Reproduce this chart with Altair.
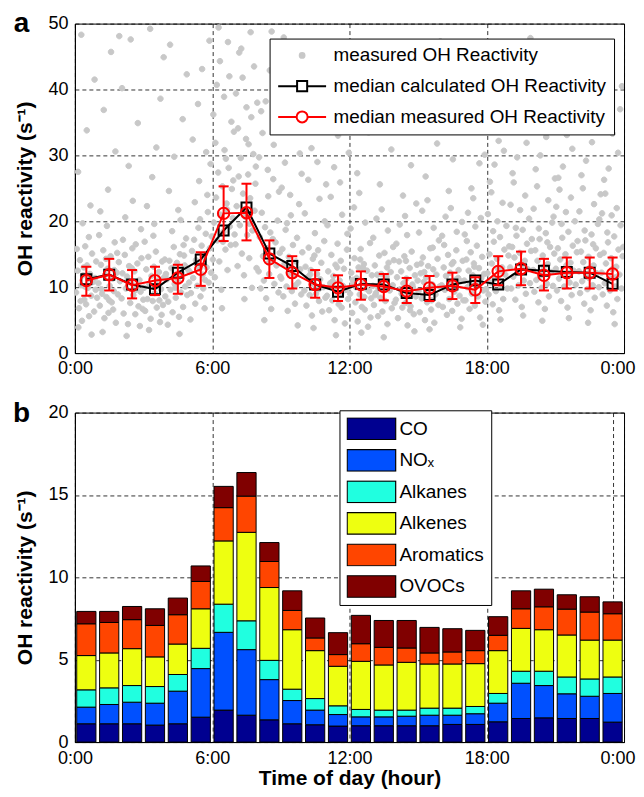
import altair as alt
import pandas as pd

FONT = "Liberation Sans"

# ---------------- Panel a data ----------------
HOUR_MID = [0.5, 1.5, 2.5, 3.5, 4.5, 5.5, 6.5, 7.5, 8.5, 9.5, 10.5, 11.5,
            12.5, 13.5, 14.5, 15.5, 16.5, 17.5, 18.5, 19.5, 20.5, 21.5, 22.5, 23.5]
MEAS_MED = [11.0, 11.9, 10.3, 11.0, 11.4, 12.7, 21.2, 21.3, 14.3, 12.2, 10.4, 9.9,
            10.4, 10.1, 9.4, 9.9, 10.2, 9.6, 12.4, 12.8, 11.8, 12.2, 12.2, 12.0]
MEAS_LO = [8.7, 9.5, 8.3, 8.8, 9.0, 10.2, 17.0, 17.1, 11.4, 9.8, 8.4, 7.9,
           8.1, 8.0, 7.6, 7.9, 8.2, 7.6, 10.3, 10.3, 9.5, 9.8, 9.8, 9.5]
MEAS_HI = [13.1, 14.3, 12.6, 13.1, 13.4, 15.3, 25.3, 25.7, 17.1, 14.7, 12.6, 11.8,
           12.4, 12.0, 11.4, 11.7, 12.2, 11.5, 14.7, 15.4, 14.3, 14.5, 14.5, 14.5]
CALC_MED = [11.2, 11.9, 10.4, 9.7, 12.2, 14.2, 18.6, 22.1, 15.1, 13.2, 10.4, 9.3,
            10.5, 10.4, 9.1, 8.8, 10.4, 11.0, 10.4, 12.7, 12.5, 12.3, 12.2, 10.5]

# measured OH reactivity points: hour -> list of (fraction of hour, value)
SCATTER = {
    0: [(.05,9.2),(.12,12.5),(.18,6.8),(.22,14.1),(.27,10.3),(.31,4.9),(.36,11.8),(.41,8.1),(.45,16.2),(.49,7.4),(.53,13.3),(.57,9.9),(.62,5.6),(.66,12.0),(.71,8.7),(.75,15.1),(.79,10.8),(.84,6.3),(.88,11.4),(.93,13.9),(.97,8.4),(.08,15.8),(.15,3.9),(.25,7.9),(.39,13.0),(.59,11.2),(.73,2.8),(.91,9.6),(.34,19.7),(.68,22.4),(.14,27.5),(.52,33.8),(.86,41.5),(.28,48.3),(.61,17.6),(.44,10.1)],
    1: [(.03,10.6),(.09,7.2),(.14,13.4),(.19,9.0),(.24,15.6),(.29,5.3),(.33,11.9),(.38,8.5),(.43,12.8),(.47,6.1),(.52,10.2),(.56,14.7),(.61,7.7),(.65,11.3),(.7,9.4),(.74,16.8),(.79,4.6),(.83,12.2),(.88,8.9),(.92,13.8),(.97,10.9),(.06,17.9),(.21,3.2),(.36,14.3),(.5,8.0),(.67,6.6),(.85,15.2),(.11,21.5),(.45,24.8),(.77,30.6),(.26,36.9),(.58,45.7),(.94,48.1),(.4,19.3),(.72,12.6),(.16,9.7)],
    2: [(.04,8.3),(.08,12.1),(.13,6.0),(.18,14.9),(.23,9.8),(.28,11.6),(.32,4.4),(.37,13.2),(.42,7.6),(.46,10.7),(.51,15.9),(.55,8.8),(.6,12.4),(.64,5.9),(.69,10.0),(.73,13.6),(.78,7.1),(.82,11.1),(.87,9.3),(.91,14.4),(.96,6.7),(.1,17.2),(.26,2.6),(.48,12.9),(.66,16.5),(.84,4.1),(.2,20.6),(.53,23.1),(.35,28.4),(.75,34.9),(.06,40.2),(.44,47.6),(.89,18.8),(.62,9.5),(.3,11.0),(.99,8.1)],
    3: [(.02,9.9),(.07,6.4),(.12,12.7),(.17,8.2),(.21,14.6),(.26,10.4),(.31,5.2),(.35,11.7),(.4,7.9),(.45,13.1),(.49,9.1),(.54,15.4),(.58,6.9),(.63,10.6),(.67,12.3),(.72,4.7),(.76,9.7),(.81,13.9),(.85,7.3),(.9,11.5),(.95,8.6),(.05,16.9),(.24,3.5),(.43,17.8),(.61,11.0),(.79,5.8),(.93,14.2),(.15,22.3),(.38,26.7),(.56,31.2),(.74,38.6),(.88,44.9),(.29,49.2),(.47,19.6),(.69,8.0),(.98,12.0)],
    4: [(.03,11.2),(.08,7.8),(.13,14.0),(.18,9.6),(.22,12.9),(.27,6.2),(.32,16.1),(.36,10.5),(.41,8.4),(.46,13.7),(.5,11.0),(.55,5.5),(.59,15.0),(.64,9.2),(.68,12.1),(.73,7.0),(.77,14.8),(.82,10.1),(.86,17.4),(.91,8.8),(.96,12.6),(.06,4.3),(.25,18.5),(.44,11.6),(.62,20.2),(.8,13.3),(.11,24.6),(.34,29.8),(.52,21.7),(.71,35.5),(.89,42.3),(.16,46.8),(.57,2.9),(.39,9.9),(.75,16.4),(.99,10.7)],
    5: [(.02,12.3),(.07,9.1),(.12,15.5),(.17,11.4),(.21,17.2),(.26,7.5),(.31,13.6),(.35,10.2),(.4,19.0),(.45,12.8),(.49,8.6),(.54,16.3),(.58,11.9),(.63,14.5),(.67,6.8),(.72,18.1),(.76,13.0),(.81,21.4),(.85,10.7),(.9,15.9),(.95,12.2),(.05,5.1),(.24,22.9),(.43,26.1),(.61,9.8),(.79,24.0),(.93,28.7),(.15,32.4),(.38,37.8),(.56,43.1),(.74,30.5),(.88,47.4),(.29,14.1),(.47,20.3),(.69,11.1),(.98,17.7)],
    6: [(.03,14.2),(.08,19.8),(.12,11.5),(.17,23.6),(.22,17.1),(.26,27.4),(.31,13.9),(.36,21.0),(.4,9.6),(.45,25.3),(.49,18.4),(.54,30.8),(.58,15.7),(.63,22.7),(.67,12.6),(.72,28.1),(.77,19.2),(.81,16.4),(.86,24.9),(.9,20.5),(.95,33.6),(.05,36.2),(.2,40.7),(.34,44.3),(.52,38.9),(.69,47.2),(.84,35.1),(.14,31.9),(.43,6.8),(.6,29.5),(.75,42.0),(.92,26.2),(.28,49.4),(.47,16.9),(.65,21.8),(.98,18.0)],
    7: [(.02,16.5),(.07,22.3),(.11,13.2),(.16,26.8),(.21,19.4),(.25,29.6),(.3,15.1),(.35,24.2),(.39,11.8),(.44,20.7),(.48,32.5),(.53,17.9),(.57,27.1),(.62,14.4),(.66,23.5),(.71,35.8),(.76,18.6),(.8,30.2),(.85,21.6),(.89,25.7),(.94,12.9),(.04,39.4),(.18,45.6),(.33,41.8),(.5,37.3),(.68,48.7),(.83,43.5),(.13,34.1),(.41,8.2),(.59,31.7),(.74,9.9),(.91,28.3),(.27,46.2),(.46,21.1),(.64,19.6),(.97,38.0)],
    8: [(.03,12.4),(.08,17.6),(.12,9.8),(.17,21.3),(.22,14.7),(.26,11.0),(.31,19.1),(.36,8.3),(.4,15.9),(.45,23.8),(.49,12.0),(.54,18.3),(.58,6.7),(.63,14.1),(.67,26.4),(.72,10.5),(.77,16.8),(.81,13.3),(.86,20.1),(.9,9.2),(.95,15.2),(.05,29.7),(.2,33.4),(.34,38.2),(.52,42.9),(.69,31.6),(.84,46.5),(.14,36.7),(.43,27.8),(.6,48.8),(.75,40.4),(.92,24.5),(.28,5.0),(.47,13.7),(.65,17.3),(.98,11.6)],
    9: [(.02,11.3),(.07,15.8),(.11,8.6),(.16,13.5),(.21,18.7),(.25,10.1),(.3,6.4),(.35,14.6),(.39,12.2),(.44,20.9),(.48,9.4),(.53,16.4),(.57,11.8),(.62,7.5),(.66,13.9),(.71,17.5),(.76,10.7),(.8,22.6),(.85,12.7),(.89,8.9),(.94,15.3),(.04,25.1),(.18,28.9),(.33,33.7),(.5,39.6),(.68,44.1),(.83,30.3),(.13,47.9),(.41,24.0),(.59,36.4),(.74,4.2),(.91,27.2),(.27,19.7),(.46,12.9),(.64,10.3),(.97,41.3)],
    10: [(.03,9.5),(.08,13.1),(.12,7.2),(.17,11.5),(.22,16.0),(.26,8.8),(.31,12.6),(.36,5.7),(.4,14.3),(.45,10.4),(.49,18.2),(.54,9.0),(.58,12.0),(.63,15.6),(.67,7.9),(.72,11.2),(.77,13.7),(.81,6.3),(.86,10.0),(.9,17.0),(.95,8.4),(.05,21.2),(.2,26.3),(.34,31.1),(.52,35.9),(.69,23.4),(.84,42.6),(.14,38.5),(.43,3.8),(.6,29.0),(.75,46.4),(.92,20.0),(.28,11.9),(.47,14.8),(.65,9.7),(.98,25.6)],
    11: [(.02,8.7),(.07,12.4),(.11,6.5),(.16,10.6),(.21,14.9),(.25,8.0),(.3,11.7),(.35,5.0),(.39,13.4),(.44,9.3),(.48,16.6),(.53,7.4),(.57,11.0),(.62,14.0),(.66,6.9),(.71,10.2),(.76,12.8),(.8,4.5),(.85,9.6),(.89,15.7),(.94,8.2),(.04,19.4),(.18,23.7),(.33,28.2),(.5,33.0),(.68,21.0),(.83,39.8),(.13,44.7),(.41,2.7),(.59,25.9),(.74,36.1),(.91,18.1),(.27,10.9),(.46,13.0),(.64,9.1),(.97,30.4)],
    12: [(.03,9.0),(.08,12.2),(.12,6.1),(.17,10.5),(.22,14.4),(.26,7.7),(.31,11.4),(.36,4.8),(.4,13.0),(.45,8.9),(.49,15.8),(.54,7.0),(.58,10.8),(.63,13.5),(.67,6.6),(.72,9.8),(.77,12.5),(.81,4.0),(.86,9.4),(.9,16.7),(.95,8.3),(.05,18.9),(.2,22.1),(.34,27.3),(.52,3.1),(.69,19.8),(.84,33.5),(.14,11.1),(.43,24.3),(.6,12.9),(.75,38.7),(.92,5.4),(.28,10.0),(.47,14.2),(.65,8.5),(.98,11.8)],
    13: [(.02,10.2),(.07,7.3),(.11,13.3),(.16,9.1),(.21,11.9),(.25,5.6),(.3,14.8),(.35,8.4),(.39,12.0),(.44,6.3),(.48,10.9),(.53,15.2),(.57,7.9),(.62,11.6),(.66,4.4),(.71,13.7),(.76,9.5),(.8,12.3),(.85,6.8),(.89,10.3),(.94,14.1),(.04,17.5),(.18,20.4),(.33,25.6),(.5,2.4),(.68,18.6),(.83,30.9),(.13,8.8),(.41,21.8),(.59,11.2),(.74,42.8),(.91,16.1),(.27,9.8),(.46,35.2),(.64,13.0),(.97,7.6)],
    14: [(.03,8.1),(.08,11.5),(.12,5.3),(.17,13.9),(.22,9.7),(.26,12.4),(.31,6.9),(.36,10.6),(.4,14.7),(.45,7.6),(.49,11.3),(.54,4.2),(.58,9.2),(.63,12.9),(.67,7.1),(.72,15.4),(.77,10.0),(.81,5.9),(.86,11.8),(.9,8.6),(.95,13.4),(.05,16.6),(.2,19.5),(.34,23.9),(.52,17.9),(.69,28.5),(.84,3.3),(.14,45.1),(.43,20.8),(.6,33.9),(.75,10.4),(.92,22.7),(.28,9.0),(.47,14.0),(.65,6.5),(.98,11.0)],
    15: [(.02,9.4),(.07,6.2),(.11,12.1),(.16,8.3),(.21,14.5),(.25,10.8),(.3,5.0),(.35,11.5),(.39,7.7),(.44,13.2),(.48,9.9),(.53,15.9),(.57,6.6),(.62,10.4),(.66,12.7),(.71,4.6),(.76,8.9),(.8,11.9),(.85,14.3),(.89,7.3),(.94,10.1),(.04,18.3),(.18,21.6),(.33,26.8),(.5,3.6),(.68,19.0),(.83,31.8),(.13,13.6),(.41,23.2),(.59,8.0),(.74,37.4),(.91,17.1),(.27,12.3),(.46,9.2),(.64,16.0),(.97,47.3)],
    16: [(.03,10.3),(.08,7.0),(.12,13.0),(.17,9.6),(.22,11.7),(.26,5.8),(.31,14.9),(.36,8.2),(.4,12.2),(.45,10.7),(.49,6.4),(.54,13.8),(.58,9.3),(.63,11.1),(.67,15.6),(.72,7.5),(.77,12.6),(.81,8.7),(.86,10.9),(.9,5.2),(.95,14.0),(.05,17.8),(.2,20.7),(.34,24.6),(.52,29.4),(.69,18.4),(.84,3.9),(.14,16.4),(.43,22.0),(.6,34.6),(.75,11.4),(.92,19.9),(.28,9.9),(.47,13.5),(.65,40.9),(.98,8.0)],
    17: [(.02,11.0),(.07,8.0),(.11,14.2),(.16,10.0),(.21,12.5),(.25,6.7),(.3,15.3),(.35,9.0),(.39,11.8),(.44,13.6),(.48,7.2),(.53,10.6),(.57,16.3),(.62,8.6),(.66,12.9),(.71,5.4),(.76,11.4),(.8,14.6),(.85,9.5),(.89,12.0),(.94,7.8),(.04,18.0),(.18,21.3),(.33,25.0),(.5,19.2),(.68,28.8),(.83,4.3),(.13,17.0),(.41,23.5),(.59,36.3),(.74,20.5),(.91,30.1),(.27,10.4),(.46,13.1),(.64,44.2),(.97,9.7)],
    18: [(.03,12.1),(.08,8.9),(.12,15.0),(.17,10.7),(.22,13.6),(.26,7.4),(.31,16.9),(.36,11.3),(.4,9.4),(.45,14.3),(.49,12.8),(.54,6.5),(.58,17.6),(.63,10.1),(.67,13.0),(.72,8.2),(.77,15.7),(.81,11.9),(.86,19.3),(.9,9.8),(.95,14.8),(.05,21.1),(.2,24.4),(.34,28.6),(.52,32.2),(.69,22.8),(.84,36.8),(.14,26.0),(.43,41.6),(.6,5.1),(.75,30.7),(.92,45.5),(.28,18.5),(.47,20.0),(.65,12.4),(.98,16.2)],
    19: [(.02,13.0),(.07,9.8),(.11,16.1),(.16,11.6),(.21,14.5),(.25,8.1),(.3,17.8),(.35,12.2),(.39,10.3),(.44,15.2),(.48,13.5),(.53,7.0),(.57,18.7),(.62,11.0),(.66,14.0),(.71,9.0),(.76,16.6),(.8,12.7),(.85,20.4),(.89,10.6),(.94,15.5),(.04,22.5),(.18,25.9),(.33,29.7),(.5,34.4),(.68,23.9),(.83,38.1),(.13,27.3),(.41,43.0),(.59,5.7),(.74,31.9),(.91,47.8),(.27,19.0),(.46,21.7),(.64,13.3),(.97,17.3)],
    20: [(.03,12.6),(.08,9.3),(.12,15.6),(.17,11.1),(.22,14.0),(.26,7.7),(.31,17.3),(.36,11.8),(.4,9.9),(.45,14.8),(.49,13.1),(.54,6.7),(.58,18.2),(.63,10.5),(.67,13.5),(.72,8.6),(.77,16.1),(.81,12.3),(.86,19.8),(.9,10.2),(.95,15.1),(.05,21.9),(.2,25.3),(.34,30.0),(.52,35.6),(.69,23.2),(.84,39.3),(.14,27.9),(.43,4.9),(.6,32.8),(.75,44.0),(.92,20.7),(.28,18.9),(.47,12.0),(.65,16.8),(.98,26.5)],
    21: [(.02,12.8),(.07,9.5),(.11,15.9),(.16,11.3),(.21,14.2),(.25,7.9),(.3,17.5),(.35,12.0),(.39,10.1),(.44,15.0),(.48,13.3),(.53,6.9),(.57,18.4),(.62,10.7),(.66,13.7),(.71,8.8),(.76,16.3),(.8,12.5),(.85,20.0),(.89,10.4),(.94,15.3),(.04,22.2),(.18,24.8),(.33,28.3),(.5,33.1),(.68,23.6),(.83,37.6),(.13,26.6),(.41,42.4),(.59,5.3),(.74,31.0),(.91,46.9),(.27,19.6),(.46,21.4),(.64,12.2),(.97,17.0)],
    22: [(.03,12.4),(.08,9.1),(.12,15.4),(.17,10.9),(.22,13.8),(.26,7.5),(.31,17.1),(.36,11.6),(.4,9.7),(.45,14.6),(.49,12.9),(.54,6.5),(.58,18.0),(.63,10.3),(.67,13.3),(.72,8.4),(.77,15.9),(.81,12.1),(.86,19.6),(.9,10.0),(.95,14.9),(.05,21.5),(.2,25.0),(.34,29.2),(.52,34.7),(.69,22.6),(.84,38.8),(.14,27.0),(.43,4.6),(.6,32.0),(.75,41.9),(.92,20.3),(.28,18.6),(.47,11.4),(.65,16.5),(.98,24.1)],
    23: [(.02,12.2),(.07,8.9),(.11,15.2),(.16,10.6),(.21,13.6),(.25,7.2),(.3,16.8),(.35,11.4),(.39,9.5),(.44,14.4),(.48,12.7),(.53,6.2),(.57,17.7),(.62,10.1),(.66,13.1),(.71,8.2),(.76,15.7),(.8,11.9),(.85,19.4),(.89,9.8),(.94,14.7),(.04,21.2),(.18,24.2),(.33,28.0),(.5,33.3),(.68,22.0),(.83,37.0),(.13,26.3),(.41,45.8),(.59,4.4),(.74,30.4),(.91,40.5),(.27,18.3),(.46,20.9),(.64,11.5),(.97,16.1)],
}

LEGEND_A = ["measured OH Reactivity", "median calculated OH Reactivity", "median measured OH Reactivity"]

# ---------------- Panel b data ----------------
COMPONENTS = ["CO", "NO\u2093", "Alkanes", "Alkenes", "Aromatics", "OVOCs"]
COMP_COLORS = ["#000090", "#0050ff", "#20ffe0", "#eeff10", "#ff4500", "#800000"]
CO = [1.11, 1.11, 1.11, 1.03, 1.11, 1.51, 1.94, 1.63, 1.35, 1.11, 1.05, 0.97,
      0.99, 0.99, 0.99, 0.99, 1.07, 1.07, 1.23, 1.43, 1.47, 1.43, 1.43, 1.21]
NOX = [1.01, 1.17, 1.31, 1.33, 1.98, 2.95, 4.72, 3.98, 2.44, 1.41, 0.89, 0.70,
       0.54, 0.54, 0.58, 0.64, 0.56, 0.65, 1.13, 2.14, 1.96, 1.50, 1.35, 1.74]
ALKANES = [1.05, 1.01, 1.01, 1.01, 1.01, 1.23, 1.71, 1.75, 1.17, 0.69, 0.70, 0.53,
           0.45, 0.41, 0.37, 0.43, 0.43, 0.44, 0.59, 0.73, 0.87, 1.02, 1.05, 1.00]
ALKENES = [2.08, 2.12, 2.24, 1.80, 1.85, 2.40, 3.84, 5.37, 4.42, 3.61, 2.91, 2.40,
           2.92, 2.74, 2.90, 2.68, 2.68, 2.60, 2.60, 2.60, 2.52, 2.55, 2.36, 2.24]
AROMATICS = [1.93, 1.85, 1.76, 1.91, 1.78, 1.66, 2.02, 2.20, 1.58, 1.17, 0.77, 0.71,
             1.07, 1.07, 0.87, 0.67, 0.73, 0.79, 0.93, 1.19, 1.39, 1.57, 1.70, 1.60]
OVOCS = [0.75, 0.67, 0.80, 1.01, 1.01, 0.94, 1.29, 1.43, 1.15, 1.19, 1.21, 1.33,
         1.72, 1.63, 1.67, 1.55, 1.41, 1.23, 1.13, 1.09, 1.07, 0.87, 0.93, 0.72]
COMP_VALUES = [CO, NOX, ALKANES, ALKENES, AROMATICS, OVOCS]

# ---------------- data frames ----------------
sc_rows = []
for h, pts in SCATTER.items():
    for f, v in pts:
        sc_rows.append({"x": h + f, "y": v, "series": LEGEND_A[0]})
df_sc = pd.DataFrame(sc_rows)

df_med = pd.DataFrame({"x": HOUR_MID, "calc": CALC_MED, "meas": MEAS_MED,
                       "lo": MEAS_LO, "hi": MEAS_HI})

bar_rows = []
for i, h in enumerate(HOUR_MID):
    for j, comp in enumerate(COMPONENTS):
        bar_rows.append({"x": h, "comp": comp, "idx": j, "value": COMP_VALUES[j][i]})
df_bar = pd.DataFrame(bar_rows)

# ---------------- shared scales/axes ----------------
XSCALE = alt.Scale(domain=[0, 24], nice=False, zero=False)
XLABEL = "datum.value == 23.5 ? '' : (datum.value % 24) + ':00'"
LAST_ALIGN = {"condition": {"test": "datum.value >= 24", "value": "right"}, "value": "center"}
LAST_OFFSET = {"condition": {"test": "datum.value >= 24", "value": 11}, "value": 0}
AX_XA = alt.Axis(values=[0, 6, 12, 18, 24], labelExpr=XLABEL, title=None, grid=True,
                 labelFlush=False, labelPadding=6, ticks=False,
                 labelAlign=LAST_ALIGN, labelOffset=LAST_OFFSET)
AX_XB = alt.Axis(values=[0, 6, 12, 18, 23.5, 24], labelExpr=XLABEL, title="Time of day (hour)",
                 grid=True, labelFlush=False, labelPadding=7, ticks=False, titlePadding=1,
                 labelAlign=LAST_ALIGN, labelOffset=LAST_OFFSET)
YTITLE = "OH reactivity (s\u207b\u00b9)"
YSCALE_A = alt.Scale(domain=[0, 50], nice=False)
YSCALE_B = alt.Scale(domain=[0, 20], nice=False)
AX_YA = alt.Axis(values=[0, 10, 20, 30, 40, 50], title=YTITLE, labelPadding=7,
                 titlePadding=12, ticks=False, grid=True)
AX_YB = alt.Axis(values=[0, 5, 10, 15, 20], title=YTITLE, labelPadding=7,
                 titlePadding=12, ticks=False, grid=True)


def xa(field):
    return alt.X(field, type="quantitative", scale=XSCALE, axis=AX_XA)


def ya(field):
    return alt.Y(field, type="quantitative", scale=YSCALE_A, axis=AX_YA)


DOT = "M0.1,0A0.1,0.1,0,1,1,-0.1,0A0.1,0.1,0,1,1,0.1,0Z"
SQ = "M-1,0H-0.21M0.21,0H1M-0.21,-0.21H0.21V0.21H-0.21Z"
CIRC = "M-1,0H-0.23M0.23,0H1M0.23,0A0.23,0.23,0,1,1,-0.23,0A0.23,0.23,0,1,1,0.23,0Z"

LEG_A = alt.Legend(title=None, orient="none", legendX=195, legendY=15, padding=7.6,
                   strokeColor="black", fillColor="white", symbolSize=2304,
                   symbolStrokeWidth=2, clipHeight=18.5, rowPadding=10.8, labelOffset=6.4,
                   labelFontSize=18.9, labelFont=FONT, labelColor="black", labelLimit=400)

scatter = alt.Chart(df_sc).mark_point(filled=True, opacity=1, size=3100, strokeWidth=1, clip=True).encode(
    x=xa("x"), y=ya("y"),
    fill=alt.Fill("series:N", scale=alt.Scale(domain=LEGEND_A, range=["#c8c8c8", "transparent", "transparent"]), legend=LEG_A),
    stroke=alt.Stroke("series:N", scale=alt.Scale(domain=LEGEND_A, range=["#c8c8c8", "black", "red"]), legend=LEG_A),
    shape=alt.Shape("series:N", scale=alt.Scale(domain=LEGEND_A, range=[DOT, SQ, CIRC]), legend=LEG_A),
)

calc_line = alt.Chart(df_med).mark_line(color="black", strokeWidth=2).encode(x=xa("x"), y=ya("calc"))
calc_pts = alt.Chart(df_med).mark_point(shape="square", filled=False, color="black", size=100,
                                        strokeWidth=2, opacity=1).encode(x=xa("x"), y=ya("calc"))
err = alt.Chart(df_med).mark_rule(color="red", strokeWidth=2).encode(x=xa("x"), y=ya("lo"), y2="hi:Q")
caps_base = alt.Chart(df_med).transform_calculate(xl="datum.x - 0.22", xr="datum.x + 0.22")
cap_lo = caps_base.mark_rule(color="red", strokeWidth=2).encode(x=xa("xl"), x2="xr:Q", y=ya("lo"))
cap_hi = caps_base.mark_rule(color="red", strokeWidth=2).encode(x=xa("xl"), x2="xr:Q", y=ya("hi"))
meas_line = alt.Chart(df_med).mark_line(color="red", strokeWidth=2).encode(x=xa("x"), y=ya("meas"))
meas_pts = alt.Chart(df_med).mark_point(shape="circle", filled=False, color="red", size=130,
                                        strokeWidth=2, opacity=1).encode(x=xa("x"), y=ya("meas"))

label_a = alt.Chart(pd.DataFrame({"t": ["a"]})).mark_text(
    fontSize=28, fontWeight="bold", font=FONT, align="center", baseline="alphabetic", color="black"
).encode(text="t:N", x=alt.value(-53.5), y=alt.value(8.3))

panel_a = alt.layer(scatter, calc_line, calc_pts, err, cap_lo, cap_hi, meas_line, meas_pts,
                    label_a).properties(width=550, height=330)

# ---------------- panel b ----------------
RECT = "M-1,-0.444H1V0.444H-1Z"
LEG_B = alt.Legend(title=None, orient="none", legendX=265, legendY=-2.3, padding=7,
                   strokeColor="black", fillColor="white", symbolType=RECT, symbolSize=2362,
                   symbolStrokeColor="black", symbolStrokeWidth=1.2, clipHeight=23,
                   rowPadding=8.6, labelOffset=3, labelFontSize=19, labelFont=FONT,
                   labelColor="black", labelLimit=400)

bars = alt.Chart(df_bar).transform_stack(
    stack="value", groupby=["x"], as_=["y0", "y1"], sort=[alt.SortField("idx", order="ascending")]
).transform_calculate(
    xs="datum.x - 0.42", xe="datum.x + 0.42"
).mark_bar(stroke="black", strokeWidth=1).encode(
    x=alt.X("xs:Q", scale=XSCALE, axis=AX_XB), x2="xe:Q",
    y=alt.Y("y0:Q", scale=YSCALE_B, axis=AX_YB), y2="y1:Q",
    fill=alt.Fill("comp:N", scale=alt.Scale(domain=COMPONENTS, range=COMP_COLORS), legend=LEG_B),
)

label_b = alt.Chart(pd.DataFrame({"t": ["b"]})).mark_text(
    fontSize=28, fontWeight="bold", font=FONT, align="center", baseline="alphabetic", color="black"
).encode(text="t:N", x=alt.value(-53.5), y=alt.value(9.4))

panel_b = alt.layer(bars, label_b).properties(width=550, height=330)

chart = alt.vconcat(panel_a, panel_b, spacing=20.6).resolve_scale(
    x="independent", y="independent", fill="independent", stroke="independent", shape="independent"
).properties(
    padding={"left": 4, "top": 0, "right": 0, "bottom": 0}
).configure(font=FONT).configure_view(
    stroke="black", strokeWidth=1
).configure_axis(
    labelFont=FONT, labelFontSize=18, labelColor="black",
    titleFont=FONT, titleFontSize=21, titleFontWeight="bold", titleColor="black",
    domainColor="black", domainWidth=1, gridColor="black", gridDash=[4, 3],
    gridWidth=0.8, gridOpacity=1,
)

chart.save("out.html", embed_options={"renderer": "svg", "actions": False})
